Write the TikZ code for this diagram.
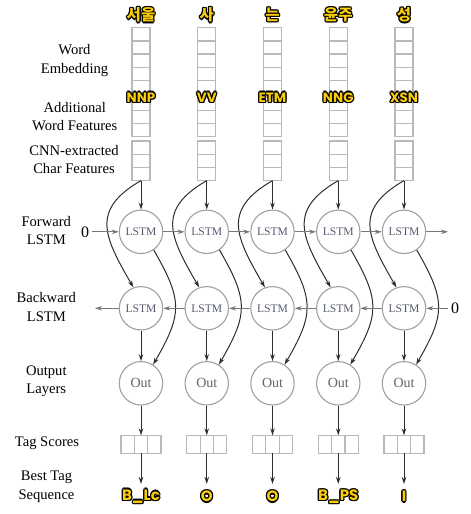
\documentclass[tikz,border=0pt]{standalone}
\usepackage{fontspec}
\setmainfont{Liberation Serif}
\newfontfamily\krfont{Noto Sans CJK KR}
\newfontfamily\comicfont{Poppins}
\usetikzlibrary{arrows.meta}
\definecolor{ylw}{RGB}{250,205,10}
\definecolor{boxgray}{RGB}{185,185,185}
\definecolor{circgray}{RGB}{160,160,160}
\definecolor{hgray}{RGB}{120,120,120}
\definecolor{dgray}{RGB}{45,45,45}
\definecolor{lstmtxt}{RGB}{85,90,110}
\definecolor{outtxt}{RGB}{100,100,100}
\newcommand\olc[3]{\rlap{\kern#1\raisebox{#2}{\textcolor{black}{#3}}}}
\newcommand\outlined[1]{\olc{1.3pt}{0pt}{#1}\olc{-1.3pt}{0pt}{#1}\olc{0pt}{1.3pt}{#1}\olc{0pt}{-1.3pt}{#1}\olc{0.95pt}{0.95pt}{#1}\olc{-0.95pt}{0.95pt}{#1}\olc{0.95pt}{-0.95pt}{#1}\olc{-0.95pt}{-0.95pt}{#1}\textcolor{ylw}{#1}}
\tikzset{
  cellbox/.style={draw=boxgray, line width=1.3pt, minimum width=18pt, minimum height=13.2pt, inner sep=0pt, outer sep=0pt},
  tagcell/.style={draw=boxgray, line width=1.2pt, minimum width=13.3pt, minimum height=18pt, inner sep=0pt, outer sep=0pt},
  unit/.style={circle, draw=circgray, line width=1.1pt, minimum size=43.4pt, inner sep=0pt},
  lstmunit/.style={unit, text=lstmtxt, font=\fontsize{11.6}{12}\selectfont},
  outunit/.style={unit, text=outtxt, font=\fontsize{14}{15}\selectfont},
  leftlab/.style={align=center, font=\fontsize{14.6}{18.5}\selectfont, inner sep=0pt},
  zerolab/.style={font=\fontsize{16}{16}\selectfont, inner sep=2.5pt},
  krlab/.style={font=\krfont\bfseries\fontsize{15.5}{16}\selectfont, inner sep=0pt},
  poslab/.style={font=\comicfont\bfseries\fontsize{13.5}{14}\selectfont, inner sep=0pt},
  taglab/.style={font=\comicfont\bfseries\fontsize{15}{15}\selectfont, inner sep=0pt},
  varrow/.style={draw=dgray, line width=1pt, -{Stealth[length=7pt,width=4.5pt]}},
  harrow/.style={draw=hgray, line width=1pt, -{Stealth[length=7pt,width=4.5pt]}},
}
\begin{document}
\begin{tikzpicture}[x=1pt,y=1pt]
\useasboundingbox (0,0) rectangle (471,-514);
% left labels
\node[leftlab] (lwe) at (74.5,-60.5) {Word\\Embedding};
\node[leftlab] (law) at (74.8,-116.5) {Additional\\Word Features};
\node[leftlab] (lcnn) at (74,-159.5) {CNN-extracted\\Char Features};
\node[leftlab] (lfw) at (46.3,-230.5) {Forward\\LSTM};
\node[leftlab] (lbw) at (46.3,-307) {Backward\\LSTM};
\node[leftlab] (lout) at (46.3,-381) {Output\\Layers};
\node[leftlab] (lts) at (47,-443) {Tag Scores};
\node[leftlab] (lbt) at (46.5,-486.7) {Best Tag\\Sequence};
% columns
\foreach \i/\w/\p/\t in {1/서울/NNP/B\_Lc, 2/사/VV/O, 3/는/ETM/O, 4/윤주/NNG/B\_PS, 5/성/XSN/I}{
  \pgfmathsetmacro\x{141+65.75*(\i-1)}
  \foreach \k in {0,...,4}{
    \node[cellbox] (we\i-\k) at (\x,{-27.7-13.2*\k-6.6}) {};
  }
  \foreach \k in {0,1,2}{
    \node[cellbox] (af\i-\k) at (\x,{-97-13.2*\k-6.6}) {};
    \node[cellbox] (cf\i-\k) at (\x,{-141-13.2*\k-6.6}) {};
  }
  \node[krlab] (w\i) at (\x,-15) {\outlined{\w}};
  \node[poslab] (p\i) at (\x,-97.5) {\outlined{\p}};
  \node[lstmunit] (f\i) at (\x,-231.8) {LSTM};
  \node[lstmunit] (b\i) at (\x,-308.3) {LSTM};
  \node[outunit] (o\i) at (\x,-383.3) {Out};
  \node[tagcell] (t\i-1) at ({\x-13.3},-444.3) {};
  \node[tagcell] (t\i-2) at (\x,-444.3) {};
  \node[tagcell] (t\i-3) at ({\x+13.3},-444.3) {};
  \coordinate (e\i) at (\x,-484);
  \node[taglab] (g\i) at (\x,-496.5) {\outlined{\t}};
  \draw[varrow] (cf\i-2.south) -- (f\i.north);
  \draw[varrow] (cf\i-2.south) to[out=210,in=120,looseness=1.4] (b\i.110);
  \draw[varrow] (f\i.-55) to[out=-60,in=60,looseness=1.3] (o\i.57);
  \draw[varrow] (b\i.south) -- (o\i.north);
  \draw[varrow] (o\i.south) -- (t\i-2.north);
  \draw[varrow] (t\i-2.south) -- (e\i);
}
% forward chain
\node[zerolab] (f0) at (85,-231.8) {0};
\coordinate (fend) at (448,-231.8);
\draw[harrow] (f0) -- (f1);
\foreach \i [evaluate=\i as \j using int(\i+1)] in {1,...,4}{
  \draw[harrow] (f\i) -- (f\j);
}
\draw[harrow] (f5) -- (fend);
% backward chain
\node[zerolab] (b6) at (455,-308.3) {0};
\coordinate (bend) at (95,-308.3);
\foreach \i [evaluate=\i as \j using int(\i+1)] in {1,...,5}{
  \draw[harrow] (b\j) -- (b\i);
}
\draw[harrow] (b1) -- (bend);
\end{tikzpicture}
\end{document}
